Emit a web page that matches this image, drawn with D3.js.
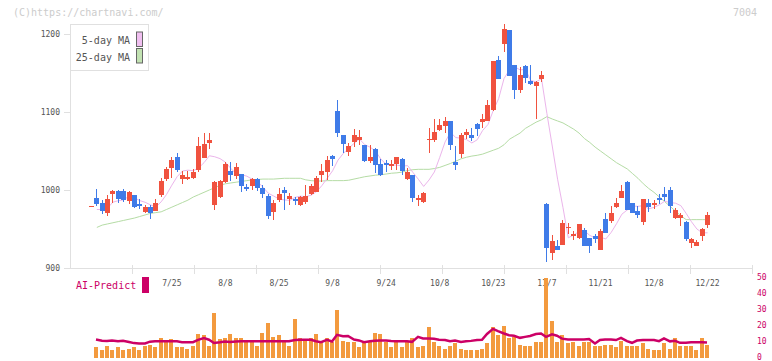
<!DOCTYPE html>
<html>
<head>
<meta charset="utf-8">
<script src="https://cdn.jsdelivr.net/npm/d3@7"></script>
<style>
  body { margin: 0; background: #fff; }
  svg { display: block; font-family: "DejaVu Sans Mono", monospace; }
</style>
</head>
<body>
<svg id="chart" width="772" height="361"></svg>
<script>
// daily candles, oldest first
const openP = [979,989.7,983.3,970.9,995.3,999,998.3,986.3,994,982,971.8,978.2,973,993.6,1014,1028.2,1042.3,1014,1014.1,1015.4,
  1025.6,1041,1060.3,980.8,991,1010.3,1024.4,1018,1020.5,1003.8,1005.1,1014.1,1002.6,992.3,971.8,987.2,1000,988.5,988.5,980.8,
  984.6,994.9,997.4,1019.2,1023,1043.6,1101.3,1070.5,1048.7,1061.5,1064.1,1057.7,1037.2,1052.6,1033.3,1034.6,1032,1033.3,1039.7,1014.1,
  1019.2,988.5,984.6,1064.1,1064.1,1076.9,1082,1088.5,1035.9,1046.2,1070.5,1070.5,1084.6,1087.2,1088.5,1102.6,1166.7,1187.2,1205.1,1160.3,
  1128.2,1159,1139.7,1133.3,1142.3,982,919.2,928.2,929.5,951.3,941,938.5,948.7,938.5,941,923.1,962.8,960.3,978.2,989.7,
  1010.3,983.3,973,959,983.3,982,989.7,994.9,1000,964.1,964.1,959,932,928.2,941,955.1];
const highP = [980,1001.3,987,993.6,1000,1000,1001.3,999.1,994,988.5,980.8,980.8,988.5,1015.4,1029.5,1042.3,1047.4,1024.4,1024.4,1026.9,
  1067.9,1073,1073,1011.5,1012.8,1035.9,1035.9,1034.6,1020.5,1007.7,1015.4,1015.4,1006.4,994.9,987.2,1002.6,1003.8,996.2,991,992.3,
  1006.4,1007.7,1017.9,1033.3,1043.6,1044.9,1115.4,1070.5,1060.3,1078.2,1076.9,1057.7,1057.7,1053.8,1039.7,1038.5,1038.5,1042.3,1041,1028.2,
  1019.2,993.6,997.4,1079.5,1091,1091,1093.6,1088.5,1056.4,1073.1,1078.2,1079.5,1085.9,1097.4,1115.4,1165.4,1171.8,1212.8,1205.1,1160.3,
  1157.7,1160.3,1160.3,1139.7,1152.6,983.3,942.3,935.9,961.5,957.7,947.4,956.4,951.3,938.5,943.6,950,970.5,979.5,989.7,1006.4,
  1011.5,983.3,979.5,988.5,988.5,987.2,994.9,1003.8,1003.8,976.9,970.5,960.3,938.5,935.9,951.3,971.8];
const lowP = [979,979.9,969.6,967,983.7,983.7,985,982,977.4,976,970,963.2,973,991,1011.5,1015.4,1023,1007.7,1013,1014,
  1023,1041,1052.6,974.4,989.7,1009,1011.5,1014,997.4,999,1000,999,989.7,962.8,961.5,984.6,974.4,980.8,980.8,979.5,
  982,993.6,997.4,1010.3,1012.8,1030.8,1067.9,1047.4,1043.6,1055.1,1057.7,1035.9,1034.6,1021.8,1017.9,1023,1025.6,1025.6,1019.2,1012.8,
  984.6,979.5,983.3,1047.4,1061.5,1075.6,1073.1,1051.3,1025.6,1041,1065.4,1062.8,1069.2,1079.5,1088.5,1101.3,1142.3,1176.9,1146.2,1116.7,
  1124.4,1137.2,1134.6,1091,1138.5,907.7,910.3,923.1,929.5,943.6,935.9,937.2,928.2,919.2,932,923.1,944.9,957.7,976.9,989.7,
  974.4,970.5,964.1,955.1,971.8,975.6,982,985.9,970.5,962.8,953.8,934.6,925.6,928.2,934.6,951.3];
const closeP = [980,982.4,973.5,988.5,998.3,988.8,987.2,997.9,978.2,979.9,978.2,970.9,983.3,1011.5,1027,1038.5,1025.6,1019.2,1016.7,1023.5,
  1056.4,1059,1064,1010.3,1011.5,1033.3,1019.2,1029.5,1005,1001.3,1014.1,1002.6,994.9,966.7,983.3,994.9,996.2,992.3,985.9,991,
  992.3,1005.1,1015.4,1024.4,1038.5,1039.7,1073.1,1059,1056.4,1070.5,1067.9,1037.2,1042.3,1032,1019.2,1033.3,1033.3,1042.3,1024.4,1023,
  989.7,989.7,996.2,1065.4,1074.4,1083.3,1088.5,1057.7,1032,1070.5,1074.4,1066.7,1078.2,1091,1109,1165.4,1142.3,1206.4,1146.2,1128.2,
  1147.4,1143.6,1135.9,1138.5,1147.4,925.6,934.6,923.1,957.7,952.6,943.6,956.4,928.2,928.2,937.2,947.4,944.9,970.5,983.3,998.7,
  974.4,970.5,967.9,988.5,978.2,983.3,987.2,991,979.5,974.4,967.9,937.2,937.2,933.3,950,967.9];

// moving averages as drawn
const ma5 = [null,975,975,977,984.4,986.3,987.3,992.1,990.1,986.4,984.3,981,978.1,984.8,994.2,1006.2,1017.2,1024.4,1025.4,1024.7,
  1028.3,1035,1043.9,1042.6,1040.2,1035.6,1027.7,1020.8,1019.7,1017.7,1013.8,1010.5,1003.6,995.9,992.3,988.5,987.2,986.7,990.5,992.1,
  991.5,993.3,997.9,1005.6,1015.1,1024.6,1038.2,1046.9,1053.3,1059.7,1065.4,1058.2,1054.9,1050,1039.7,1032.8,1032,1032,1030.5,1031.3,
  1022.5,1013.8,1004.6,1012.8,1023.1,1041.8,1061.6,1073.9,1067.2,1066.4,1064.6,1060.3,1064.4,1076.2,1083.9,1102.1,1117.2,1142.8,1153.9,1157.7,
  1154.1,1154.4,1140.3,1138.7,1142.6,1098.2,1056.4,1013.8,977.7,938.7,942.3,946.7,947.7,941.8,938.7,939.5,937.2,945.6,956.7,969,
  974.4,979.5,979,980,975.9,977.7,981,985.6,983.8,983.1,980,970,959.2,950,945.1,945.1];
const ma25 = [null,952,955,956.5,958,959.5,961,962.5,964,966,968,970,971,972,975,978,981,984,987,991,
  994,997,1000,1003,1006,1008,1009,1010,1011,1012,1013,1013.5,1014,1014,1014,1014.5,1015,1015,1015,1015,
  1013,1012,1011.5,1011.5,1012,1012,1012,1012,1012.5,1014,1015.5,1017,1018,1019,1019.5,1020.5,1021.5,1022,1023,1025,
  1026,1026.5,1026.5,1026.5,1027.5,1029,1031.5,1034,1037,1040,1042,1043.5,1044.5,1046,1048.5,1051,1053.5,1058,1065,1069,
  1073,1079,1083,1087,1090,1094,1091,1088.5,1086,1082,1078,1073,1066,1061,1055,1050,1045,1040,1035,1031,
  1027,1021,1015,1008,1002,997,991,985,979,973,967,962,962,962,962,962];

// volume (x10,000 shares) and AI-Predict line
const volume = [null,6.6,5.3,7.8,5.3,6.6,5.3,5.9,6.6,4.7,7.8,8.4,6.6,12.2,10.3,11.6,6.6,6.6,5.9,7.2,
  14.7,14.1,7.8,28.4,11.6,12.8,14.7,12.8,12.8,9.7,9.7,7.8,15.9,21.6,13.4,14.1,9.7,7.2,24.1,12.8,
  11.6,12.8,15.3,9.7,12.8,9.7,30.3,10.9,10.3,10.3,6.6,9.7,9.7,15.9,15.3,9.7,6.6,9.7,6.6,9.7,
  12.2,6.6,7.8,19.1,9.7,7.2,5.9,7.8,9.1,5.9,5.3,4.7,4.7,5.9,9.1,19.1,14.1,19.7,12.2,13.4,
  8.4,7.8,7.2,10.3,10.3,49.7,23.4,10.3,14.1,9.1,9.7,7.8,9.7,9.7,7.8,7.2,8.4,8.4,6.6,10.9,
  7.8,7.2,7.8,9.1,5.9,5.3,5.3,9.1,5.9,12.2,7.8,7.8,7.8,4.7,12.8,8.4];
const aiPredict = [null,11.6,10.8,10.7,11,10.5,10.8,10,9.3,9.1,9.1,10.2,10.5,10.5,10.5,10.5,10.4,9.9,9.9,9.9,
  11.3,12.4,11.4,9.4,9.8,10.3,10,10.3,10.4,10.4,10.4,10.4,10.5,10.5,10.5,10.4,10.4,10.5,11.2,11.4,
  11.4,11.4,10.5,9.9,11.3,10.3,14.5,13.6,13.8,11.5,11,9.9,10.5,10.8,11,11,10.6,10.5,10.5,10.4,
  10.1,13.2,12.2,12.2,12,11.4,11.3,10.5,10.9,10,10.5,10.7,11.2,11.4,15,18.2,16.8,15.3,14.2,13.9,
  12.6,13.2,13.8,15,15.3,13.2,14.8,13.9,12.1,11.6,11.6,11.6,11.6,11.9,9.1,11.3,11.6,11.6,11.2,12.6,
  10.5,9.5,10.9,11.3,11.3,11.3,10.5,12.2,10.4,10.7,9.5,9.6,9.9,9.9,9.9,9.7];

// date labels on every 10th candle
const labelIdx = [15, 25, 35, 45, 55, 65, 75, 85, 95, 105, 115];
const labelText = ["7/25", "8/8", "8/25", "9/8", "9/24", "10/8", "10/23", "11/7", "11/21", "12/8", "12/22"];
const priceTicks = [900, 1000, 1100, 1200];
const volTicks = [0, 10, 20, 30, 40, 50];

const UP = "#f0523f", DOWN = "#3f7be8", AXIS = "#e0e0e0", TEXT = "#555", MAG = "#cc0066";

const svg = d3.select("#chart");

const x = d3.scaleLinear().domain([0, 115]).range([91.5, 707.6]);
const y = d3.scaleLinear().domain([900, 1212.8]).range([268, 24]);
const yv = d3.scaleLinear().domain([0, 50]).range([358, 278]);
const grid = d3.scaleLinear().domain([0, 11]).range([70, 752]);

// watermark
svg.append("text").attr("x", 13).attr("y", 16).attr("font-size", 10).attr("fill", "#ccc")
  .text("(C)https://chartnavi.com/");
svg.append("text").attr("x", 757).attr("y", 16).attr("font-size", 10).attr("fill", "#ccc")
  .attr("text-anchor", "end").text("7004");

// y axis
const yAxis = svg.append("g").attr("transform", "translate(70,0)")
  .call(d3.axisLeft(y).tickValues(priceTicks).tickFormat(d3.format("d"))
    .tickSizeInner(6).tickSizeOuter(0).tickPadding(4));
yAxis.select(".domain").attr("stroke", AXIS);
yAxis.selectAll(".tick line").attr("stroke", AXIS);
yAxis.selectAll(".tick text").attr("fill", TEXT).attr("font-size", 8)
  .attr("font-family", "DejaVu Sans Mono, monospace");

// x axis line + grid ticks
svg.append("line").attr("x1", 70).attr("x2", grid(11)).attr("y1", 268.5).attr("y2", 268.5)
  .attr("stroke", AXIS);
svg.append("g").selectAll("line").data(d3.range(1, 12)).join("line")
  .attr("x1", d => Math.round(grid(d)) + 0.5).attr("x2", d => Math.round(grid(d)) + 0.5)
  .attr("y1", 265).attr("y2", 274).attr("stroke", AXIS);

// date labels
svg.append("g").selectAll("text").data(labelIdx).join("text")
  .attr("x", d => x(d)).attr("y", 286).attr("text-anchor", "middle")
  .attr("font-size", 8).attr("fill", TEXT)
  .text((d, i) => labelText[i]);

// moving averages
const maLine = arr => d3.line()
  .defined(i => arr[i] != null)
  .x(i => x(i)).y(i => y(arr[i]));
const idx = d3.range(closeP.length);
svg.append("path").attr("d", maLine(ma25)(idx)).attr("fill", "none")
  .attr("stroke", "#b5dca5").attr("stroke-width", 1);
svg.append("path").attr("d", maLine(ma5)(idx)).attr("fill", "none")
  .attr("stroke", "#ebb5eb").attr("stroke-width", 1);

// candles
const candles = svg.append("g").attr("shape-rendering", "crispEdges")
  .selectAll("g").data(idx).join("g");
candles.append("rect")
  .attr("x", i => Math.round(x(i) - 2.5) + 2).attr("width", 1)
  .attr("y", i => y(highP[i])).attr("height", i => Math.max(1, y(lowP[i]) - y(highP[i])))
  .attr("fill", i => closeP[i] >= openP[i] ? UP : DOWN);
candles.append("rect")
  .attr("x", i => Math.round(x(i) - 2.5)).attr("width", 5)
  .attr("y", i => y(Math.max(openP[i], closeP[i])))
  .attr("height", i => Math.max(1.5, Math.abs(y(openP[i]) - y(closeP[i]))))
  .attr("fill", i => closeP[i] >= openP[i] ? UP : DOWN);

// legend
const lg = svg.append("g");
lg.append("rect").attr("x", 70.5).attr("y", 24.5).attr("width", 78).attr("height", 46)
  .attr("fill", "#fff").attr("stroke", AXIS);
[["5-day MA", "#f0bff0", 32], ["25-day MA", "#c2e2b2", 48.5]].forEach(([t, c, top]) => {
  lg.append("text").attr("x", 130).attr("y", top + 12).attr("text-anchor", "end")
    .attr("font-size", 10).attr("fill", TEXT).text(t);
  lg.append("rect").attr("x", 136.5).attr("y", top).attr("width", 6).attr("height", 14.5)
    .attr("fill", c).attr("stroke", "#666");
});

// AI-Predict label
svg.append("text").attr("x", 76).attr("y", 289).attr("font-size", 10).attr("fill", MAG)
  .text("AI-Predict");
svg.append("rect").attr("x", 142).attr("y", 277).attr("width", 7).attr("height", 16).attr("fill", MAG);

// volume bars
const volIdx = idx.filter(i => volume[i] != null);
svg.append("g").attr("shape-rendering", "crispEdges")
  .selectAll("rect").data(volIdx).join("rect")
  .attr("x", i => Math.round(x(i) - 2.5)).attr("width", 4)
  .attr("y", i => yv(volume[i])).attr("height", i => yv(0) - yv(volume[i]))
  .attr("fill", "#f39a3e");

svg.append("path").attr("d", d3.line().x(i => Math.round(x(i) - 2.5) + 2).y(i => yv(aiPredict[i]))(volIdx))
  .attr("fill", "none").attr("stroke", MAG).attr("stroke-width", 2.5);

// volume axis labels
svg.append("g").selectAll("text").data(volTicks).join("text")
  .attr("x", 757).attr("y", d => yv(d) - 0.5).attr("dy", "0.32em")
  .attr("font-size", 8).attr("fill", MAG)
  .text(d => d);
</script>
</body>
</html>
